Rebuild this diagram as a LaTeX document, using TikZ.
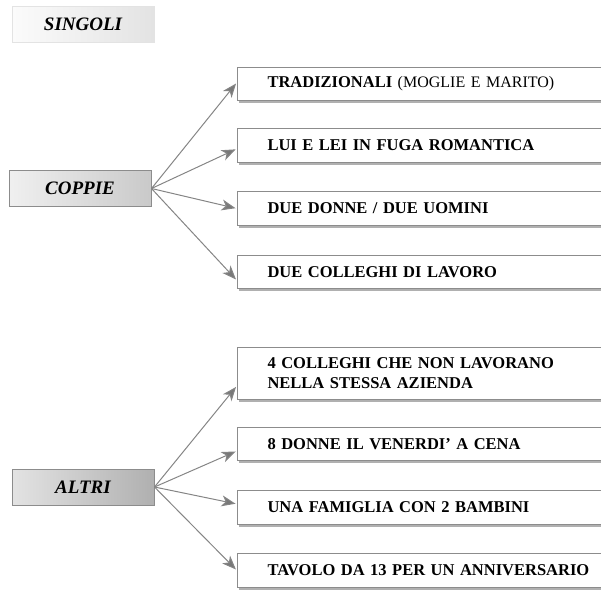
\documentclass[tikz,border=0pt]{standalone}
\usepackage{fontspec}
\setmainfont{Liberation Serif}
\usetikzlibrary{arrows.meta,shadows,calc}

\definecolor{edgegray}{HTML}{8C8C8C}
\definecolor{linegray}{HTML}{858585}
\definecolor{tipgray}{HTML}{787878}
\definecolor{shadegray}{HTML}{B0B0B0}

\tikzset{
  catbox/.style={draw=edgegray, line width=1pt, minimum width=142pt, minimum height=36pt,
    font=\fontsize{19}{22}\selectfont\bfseries\itshape, inner sep=0pt},
  itembox/.style={draw=edgegray, line width=1.1pt, fill=white, anchor=north west,
    minimum width=383pt, text width=323pt, inner xsep=30pt, inner ysep=0pt, align=left,
    font=\fontsize{16.5}{20}\selectfont\bfseries,
    drop shadow={shadow xshift=1.8pt, shadow yshift=-2.2pt, fill=shadegray, opacity=1}},
  link/.style={draw=linegray, line width=1pt, shorten >=1.5pt,
    -{Stealth[length=14pt,width=11pt,inset=4pt,fill=tipgray]}},
}

\begin{document}
\begin{tikzpicture}[x=1pt,y=-1pt]
\useasboundingbox (0,0) rectangle (601,589);

% category boxes
\node[catbox, draw=gray!22, left color=gray!3, right color=gray!22] (singoli) at (83,24) {SINGOLI};
\node[catbox, left color=gray!12, right color=gray!42] (coppie) at (80,188.5) {COPPIE};
\node[catbox, left color=gray!22, right color=gray!62] (altri) at (83,487) {ALTRI};

% couples
\node[itembox, minimum height=33pt] (c1) at (237,67)
  {TRADIZIONALI {\mdseries\fontsize{16}{18}\selectfont (MOGLIE E MARITO)}};
\node[itembox, minimum height=34pt] (c2) at (237,128) {LUI E LEI IN FUGA ROMANTICA};
\node[itembox, minimum height=34pt] (c3) at (237,191) {DUE DONNE / DUE UOMINI};
\node[itembox, minimum height=33pt] (c4) at (237,255) {DUE COLLEGHI DI LAVORO};

% other groups
\node[itembox, minimum height=52pt] (a1) at (237,347)
  {4 COLLEGHI CHE NON LAVORANO\\NELLA STESSA AZIENDA};
\node[itembox, minimum height=33pt] (a2) at (237,427) {8 DONNE IL VENERDI' A CENA};
\node[itembox, minimum height=34pt] (a3) at (237,490) {UNA FAMIGLIA CON 2 BAMBINI};
\node[itembox, minimum height=34pt] (a4) at (237,553) {TAVOLO DA 13 PER UN ANNIVERSARIO};

% connectors
\draw[link] (coppie.east) -- ($(c1.north west)!0.45!(c1.south west)$);
\draw[link] (coppie.east) -- ($(c2.north west)!0.59!(c2.south west)$);
\draw[link] (coppie.east) -- ($(c3.north west)!0.5!(c3.south west)$);
\draw[link] (coppie.east) -- ($(c4.north west)!0.75!(c4.south west)$);

\draw[link] (altri.east) -- ($(a1.north west)!0.73!(a1.south west)$);
\draw[link] (altri.east) -- ($(a2.north west)!0.7!(a2.south west)$);
\draw[link] (altri.east) -- ($(a3.north west)!0.4!(a3.south west)$);
\draw[link] (altri.east) -- ($(a4.north west)!0.5!(a4.south west)$);
\end{tikzpicture}
\end{document}
